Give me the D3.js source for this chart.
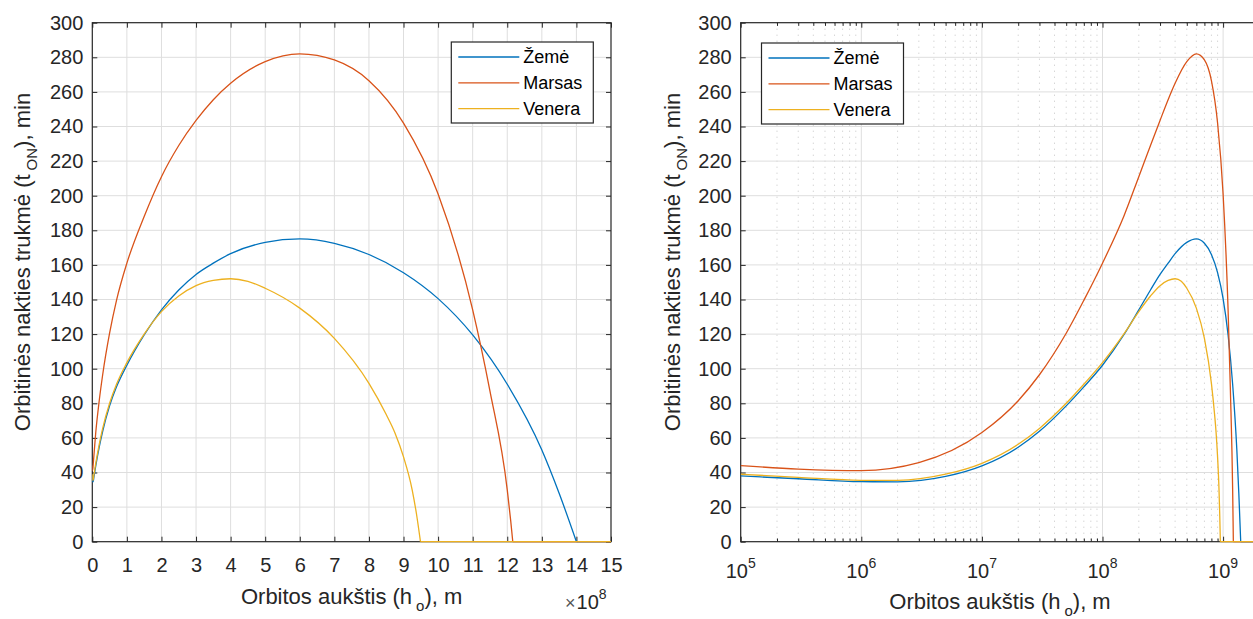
<!DOCTYPE html>
<html><head><meta charset="utf-8">
<script src="https://cdn.jsdelivr.net/npm/d3@7"></script>
<style>
html,body{margin:0;padding:0;background:#fff;}
svg{display:block;font-family:"Liberation Sans",Arial,Helvetica,sans-serif;}
</style></head><body>
<svg id="chart" width="1253" height="619"></svg>
<script>
// ---------------- data ----------------
const seriesNames  = ["Žemė", "Marsas", "Venera"];
const seriesColors = ["#0072BD", "#D95319", "#EDB120"];

const hEarth = [1e5, 3e5, 1e6, 2e6, 5e6, 1e7, 2e7, 3e7, 5e7, 7e7, 1e8, 1.5e8, 2e8, 2.5e8, 3e8, 3.5e8, 4e8, 5e8, 6e8, 7e8, 8e8, 9e8, 1e9, 1.1e9, 1.2e9, 1.3e9, 1.35e9, 1.4e9];
const tEarth = [38, 36.4, 34.7, 34.6, 37.7, 43.8, 54.6, 63.8, 78.5, 89.5, 102, 119.5, 134, 145.5, 154.5, 161, 166.5, 173, 175, 172.5, 166, 155.5, 140.5, 119.5, 91, 53, 28, 0];

const hMars = [1e5, 3e5, 1e6, 3e6, 1e7, 2e7, 3e7, 5e7, 7e7, 1e8, 1.5e8, 2e8, 2.5e8, 3e8, 3.5e8, 4e8, 5e8, 6e8, 7e8, 8e8, 9e8, 1e9, 1.1e9, 1.15e9, 1.2e9, 1.21e9, 1.216e9];
const tMars = [44, 42, 41.1, 45.7, 63.1, 81.5, 96.5, 120.5, 139.5, 161, 188, 211, 229, 243.5, 255.5, 265, 277.5, 282, 278.5, 266.5, 242, 201, 134, 87, 30, 12, 0];

const hVenus = [1e5, 3e5, 1e6, 2e6, 5e6, 1e7, 2e7, 3e7, 5e7, 7e7, 1e8, 1.5e8, 2e8, 2.5e8, 3e8, 3.5e8, 4e8, 4.5e8, 5e8, 6e8, 7e8, 8e8, 8.5e8, 8.75e8, 9e8, 9.25e8, 9.375e8, 9.49e8];
const tVenus = [39, 37.2, 35.5, 35.5, 39, 45.3, 56.3, 65.5, 80, 91, 103.5, 120, 133, 142, 148, 151, 152, 150.5, 146.5, 135, 117.5, 91.5, 73.5, 63, 49, 30, 16, 0];

const yTicks = [0, 20, 40, 60, 80, 100, 120, 140, 160, 180, 200, 220, 240, 260, 280, 300];
const xTicksLeft = [0, 1, 2, 3, 4, 5, 6, 7, 8, 9, 10, 11, 12, 13, 14, 15];          // × 10^8 m
const xTickLabelsLeft = ["0","1","2","3","4","5","6","7","8","9","10","11","12","13","14","15"];
const logExponents = [5, 6, 7, 8, 9];
const logMinorMult = [2, 3, 4, 5, 6, 7, 8, 9];

const series = [
  {name: seriesNames[0], color: seriesColors[0], h: hEarth, t: tEarth},
  {name: seriesNames[1], color: seriesColors[1], h: hMars,  t: tMars},
  {name: seriesNames[2], color: seriesColors[2], h: hVenus, t: tVenus}
];

// ---------------- layout ----------------
const AX = "#262626", GRID = "#dedede", MINOR = "#c4c4c4";
const plotTop = 22.7, plotBottom = 541.7;
const svg = d3.select("#chart");

const y = d3.scaleLinear().domain([0, 300]).range([plotBottom, plotTop]);
const xL = d3.scaleLinear().domain([0, 15e8]).range([92.3, 611]);
const xR = d3.scaleLog().domain([1e5, 2e9]).range([740.7, 740.7 + 120.6 * Math.log10(2e4)]);

const defs = svg.append("defs");
function clip(id, x0, x1) {
  defs.append("clipPath").attr("id", id).append("rect")
    .attr("x", x0).attr("y", plotTop - 3).attr("width", x1 - x0).attr("height", plotBottom - plotTop + 6);
}
clip("clipL", xL.range()[0], xL.range()[1]);
clip("clipR", xR.range()[0], xR.range()[1]);

function styleAxis(g) {
  g.select(".domain").remove();
  g.selectAll(".tick line").attr("stroke", AX).attr("stroke-width", 1);
  g.selectAll(".tick text").attr("fill", AX).attr("font-size", 20);
  g.attr("font-family", null).attr("font-size", null);
}

function yGrid(x) {
  const [x0, x1] = x.range();
  svg.append("g").selectAll("line").data(yTicks.slice(1, -1)).join("line")
    .attr("x1", x0).attr("x2", x1).attr("y1", d => y(d)).attr("y2", d => y(d))
    .attr("stroke", GRID).attr("stroke-width", 1);
}

function yAxes(x, withRight) {
  const [x0, x1] = x.range();
  svg.append("g").attr("transform", `translate(${x0},0)`)
    .call(d3.axisLeft(y).tickValues(yTicks).tickSize(-5).tickPadding(9).tickFormat(d3.format("d")))
    .call(styleAxis);
  if (withRight) {
    svg.append("g").attr("transform", `translate(${x1},0)`)
      .call(d3.axisRight(y).tickValues(yTicks).tickSize(-5).tickFormat(""))
      .call(styleAxis);
  }
}

function box(x) {
  const [x0, x1] = x.range();
  svg.append("rect").attr("x", x0).attr("y", plotTop).attr("width", x1 - x0).attr("height", plotBottom - plotTop)
    .attr("fill", "none").attr("stroke", AX).attr("stroke-width", 1.2);
}

function drawSeries(x, clipId, tailEnd) {
  const g = svg.append("g").attr("clip-path", `url(#${clipId})`);
  const line = d3.line().x(d => x(d[0])).y(d => y(d[1]));
  series.forEach(s => {
    const pts = s.h.map((v, i) => [v, s.t[i]]);
    g.append("path").attr("d", line.curve(d3.curveMonotoneX)(pts))
      .attr("fill", "none").attr("stroke", s.color).attr("stroke-width", 1.3);
    const last = pts[pts.length - 1];
    g.append("path").attr("d", line.curve(d3.curveLinear)([[last[0], 0], [tailEnd, 0]]))
      .attr("fill", "none").attr("stroke", s.color).attr("stroke-width", 1.3);
  });
}

function legend(x0, y0) {
  const g = svg.append("g").attr("transform", `translate(${x0},${y0})`);
  g.append("rect").attr("width", 142).attr("height", 81).attr("fill", "#fff")
    .attr("stroke", AX).attr("stroke-width", 1.2);
  series.forEach((s, i) => {
    const yy = 15 + i * 25.8;
    g.append("line").attr("x1", 7).attr("x2", 68).attr("y1", yy).attr("y2", yy)
      .attr("stroke", s.color).attr("stroke-width", 1.3);
    g.append("text").attr("x", 72).attr("y", yy).attr("dy", "0.35em")
      .attr("font-size", 18).attr("fill", "#000").text(s.name);
  });
}

function yTitle(xc) {
  const t = svg.append("text").attr("transform", `translate(${xc},262) rotate(-90)`)
    .attr("text-anchor", "middle").attr("font-size", 22).attr("fill", AX);
  t.append("tspan").text("Orbitinės nakties trukmė (t");
  t.append("tspan").attr("font-size", 15).attr("dx", 4).attr("dy", 7).text("ON");
  t.append("tspan").attr("dy", -7).text("), min");
}

function xTitle(xc, base) {
  const t = svg.append("text").attr("x", xc).attr("y", base)
    .attr("text-anchor", "middle").attr("font-size", 22).attr("fill", AX);
  t.append("tspan").text("Orbitos aukštis (h");
  t.append("tspan").attr("font-size", 15).attr("dx", 4).attr("dy", 7).text("o");
  t.append("tspan").attr("dy", -7).text("), m");
}

// ================= LEFT PANEL =================
{
  const [x0, x1] = xL.range();
  svg.append("g").selectAll("line").data(xTicksLeft.slice(1, -1)).join("line")
    .attr("x1", d => xL(d * 1e8)).attr("x2", d => xL(d * 1e8)).attr("y1", plotTop).attr("y2", plotBottom)
    .attr("stroke", GRID).attr("stroke-width", 1);
  yGrid(xL);
  box(xL);
  svg.append("g").attr("transform", `translate(0,${plotBottom})`)
    .call(d3.axisBottom(xL).tickValues(xTicksLeft.map(d => d * 1e8)).tickSize(-5).tickPadding(16)
      .tickFormat((d, i) => xTickLabelsLeft[i]))
    .call(styleAxis);
  svg.append("g").attr("transform", `translate(0,${plotTop})`)
    .call(d3.axisTop(xL).tickValues(xTicksLeft.map(d => d * 1e8)).tickSize(-5).tickFormat(""))
    .call(styleAxis);
  yAxes(xL, true);
  drawSeries(xL, "clipL", 2e9);
  legend(451.3, 42);
  yTitle(30);
  xTitle((x0 + x1) / 2, 604);
  const e = svg.append("text").attr("x", 565).attr("y", 609).attr("font-size", 20).attr("fill", AX);
  e.append("tspan").attr("font-size", 18).attr("fill", "#555").text("×");
  e.append("tspan").attr("dx", 1).text("10");
  e.append("tspan").attr("font-size", 14).attr("dy", -10).text("8");
}

// ================= RIGHT PANEL =================
{
  const majors = logExponents.map(e => Math.pow(10, e));
  const minors = [];
  logExponents.forEach(e => logMinorMult.forEach(m => minors.push(m * Math.pow(10, e))));
  svg.append("g").selectAll("line").data(minors).join("line")
    .attr("x1", d => xR(d)).attr("x2", d => xR(d)).attr("y1", plotTop).attr("y2", plotBottom)
    .attr("stroke", MINOR).attr("stroke-width", 1).attr("stroke-dasharray", "1,5");
  svg.append("g").selectAll("line").data(majors.slice(1)).join("line")
    .attr("x1", d => xR(d)).attr("x2", d => xR(d)).attr("y1", plotTop).attr("y2", plotBottom)
    .attr("stroke", GRID).attr("stroke-width", 1);
  yGrid(xR);
  box(xR);
  [[plotBottom, d3.axisBottom], [plotTop, d3.axisTop]].forEach(([yy, ax]) => {
    svg.append("g").attr("transform", `translate(0,${yy})`)
      .call(ax(xR).tickValues(majors).tickSize(-5).tickFormat("")).call(styleAxis);
    svg.append("g").attr("transform", `translate(0,${yy})`)
      .call(ax(xR).tickValues(minors).tickSize(-3.2).tickFormat("")).call(styleAxis);
  });
  const lab = svg.append("g");
  logExponents.forEach(e => {
    const t = lab.append("text").attr("x", xR(Math.pow(10, e))).attr("y", 578)
      .attr("text-anchor", "middle").attr("font-size", 20).attr("fill", AX);
    t.append("tspan").text("10");
    t.append("tspan").attr("font-size", 14).attr("dy", -10).text(String(e));
  });
  yAxes(xR, false);
  drawSeries(xR, "clipR", 2e9);
  legend(761.5, 43);
  yTitle(680);
  xTitle(1000, 609);
}
</script>
</body></html>
